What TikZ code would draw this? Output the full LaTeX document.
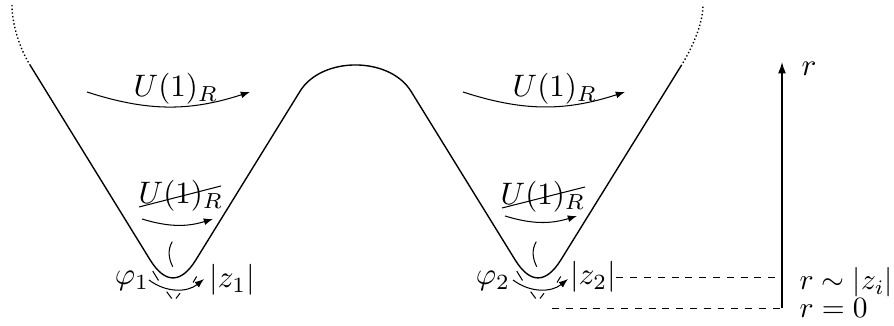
\documentclass[tikz,border=0pt]{standalone}
\usetikzlibrary{arrows.meta}
\begin{document}
\begin{tikzpicture}[x={(0.4348pt,0)},y={(0,-0.4348pt)},
  pot/.style={line width=0.6pt},
  rot/.style={-{Latex[length=4pt,width=3pt]}, line width=0.45pt},
  tick/.style={line width=0.45pt},
  lbl/.style={inner sep=0pt, scale=1.35},
  sidelbl/.style={inner sep=0pt, scale=1.28, anchor=base west},
  guide/.style={dashed, line width=0.4pt},
  axis/.style={-{Latex[length=5pt,width=3.5pt]}, line width=0.6pt}]
\useasboundingbox (0,0) rectangle (894,326);

% potential
\coordinate (L0) at (12,5);
\coordinate (L1) at (30,65);
\coordinate (R1) at (681,66);
\coordinate (R0) at (703,5);
\draw[pot, densely dotted] (L0) .. controls (12,25) and (20,49) .. (L1);
\draw[pot, densely dotted] (R1) .. controls (691,50) and (703,25) .. (R0);
\draw[pot] (L1) -- (150,259.7) .. controls (165,284) and (181,284) .. (196,259.7)
  -- (300,91.3) .. controls (321.6,56.2) and (389.4,56.2) .. (411,91.3)
  -- (515,259.7) .. controls (530,284) and (546,284) .. (561,259.7) -- (R1);

% upper rotations
\coordinate (a1s) at (87,92); \coordinate (a1e) at (250,92);
\coordinate (a2s) at (463,92); \coordinate (a2e) at (625,92);
\draw[rot] (a1s) to[bend right=18] (a1e);
\draw[rot] (a2s) to[bend right=18] (a2e);
\node[lbl] (u1) at (176,89) {$U(1)_R$};
\node[lbl] (u2) at (555,89) {$U(1)_R$};

% broken rotations
\node[lbl] (u1x) at (181,196) {$U(1)_R$};
\node[lbl] (u2x) at (543,197) {$U(1)_R$};
\coordinate (s1a) at (139,207); \coordinate (s1b) at (221,186);
\coordinate (s2a) at (502,208); \coordinate (s2b) at (585,187);
\draw[tick] (s1a) -- (s1b);
\draw[tick] (s2a) -- (s2b);
\coordinate (b1s) at (142,219); \coordinate (b1e) at (213,219);
\coordinate (b2s) at (505,216); \coordinate (b2e) at (577,216);
\draw[rot] (b1s) to[bend right=17] (b1e);
\draw[rot] (b2s) to[bend right=17] (b2e);

% bottoms of the wells
\foreach \dx/\i in {0/1,364/2}{
  \begin{scope}[shift={(\dx,0)}]
    \draw[tick] (172.3,241.7) .. controls (167.5,250) and (168.5,258) .. (172.7,266.7);
    \draw[tick] (152.7,271) -- (158.5,280.5);
    \draw[tick] (196.7,276.5) -- (193,282.5);
    \draw[tick] (166.7,291.7) -- (171.7,298.5);
    \draw[tick] (176,298.5) -- (180,293.3);
    \coordinate (p\i s) at (149,280);
    \coordinate (p\i e) at (204,279);
    \draw[rot] (p\i s) to[bend right=38] (p\i e);
  \end{scope}
}
\node[lbl] (phi1) at (132,281) {$\varphi_1$};
\node[lbl] (phi2) at (493,281) {$\varphi_2$};
\node[lbl] (z1) at (232,280) {$|z_1|$};
\node[lbl] (z2) at (593,277) {$|z_2|$};

% r axis
\coordinate (ax0) at (782,308.5);
\coordinate (ax1) at (782,277);
\coordinate (axt) at (782,62);
\coordinate (bot) at (552,308.5);
\draw[axis] (ax0) -- (axt);
\draw[guide] (z2.east) -- (ax1);
\draw[guide] (bot) -- (ax0);
\node[lbl] (rlab) at (809,69) {$r$};
\node[sidelbl] (rzi) at (799,290) {$r\sim|z_i|$};
\node[sidelbl] (r0) at (799,318) {$r=0$};
\end{tikzpicture}
\end{document}
